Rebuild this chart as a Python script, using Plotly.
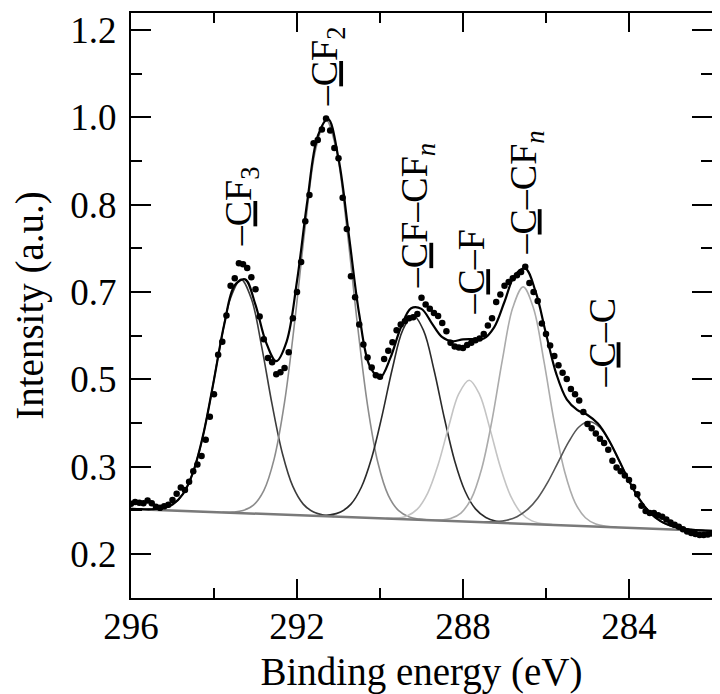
import plotly.graph_objects as go

# ---------------- data ----------------
energy_data = [296.0, 295.9, 295.8, 295.7, 295.6, 295.5, 295.4, 295.3, 295.2, 295.1,
               295.0, 294.9, 294.8, 294.7, 294.6, 294.5, 294.4, 294.3, 294.2, 294.1,
               294.0, 293.9, 293.8, 293.7, 293.6, 293.5, 293.4, 293.3, 293.2, 293.1,
               293.0, 292.9, 292.8, 292.7, 292.6, 292.5, 292.4, 292.3, 292.2, 292.1,
               292.0, 291.9, 291.8, 291.7, 291.6, 291.5, 291.4, 291.3, 291.2, 291.1,
               291.0, 290.9, 290.8, 290.7, 290.6, 290.5, 290.4, 290.3, 290.2, 290.1,
               290.0, 289.9, 289.8, 289.7, 289.6, 289.5, 289.4, 289.3, 289.2, 289.1,
               289.0, 288.9, 288.8, 288.7, 288.6, 288.5, 288.4, 288.3, 288.2, 288.1,
               288.0, 287.9, 287.8, 287.7, 287.6, 287.5, 287.4, 287.3, 287.2, 287.1,
               287.0, 286.9, 286.8, 286.7, 286.6, 286.5, 286.4, 286.3, 286.2, 286.1,
               286.0, 285.9, 285.8, 285.7, 285.6, 285.5, 285.4, 285.3, 285.2, 285.1,
               285.0, 284.9, 284.8, 284.7, 284.6, 284.5, 284.4, 284.3, 284.2, 284.1,
               284.0, 283.9, 283.8, 283.7, 283.6, 283.5, 283.4, 283.3, 283.2, 283.1,
               283.0, 282.9, 282.8, 282.7, 282.6, 282.5, 282.4, 282.3, 282.2, 282.1,
               282.0]
intensity_data = [0.296, 0.299, 0.298, 0.297, 0.302, 0.297, 0.290, 0.288, 0.291, 0.294,
                  0.303, 0.315, 0.327, 0.322, 0.338, 0.358, 0.371, 0.387, 0.418, 0.462,
                  0.505, 0.580, 0.605, 0.655, 0.712, 0.726, 0.755, 0.753, 0.746, 0.728,
                  0.705, 0.653, 0.610, 0.574, 0.566, 0.543, 0.547, 0.555, 0.585, 0.650,
                  0.700, 0.757, 0.835, 0.885, 0.984, 0.990, 1.010, 1.031, 1.008, 0.975,
                  0.955, 0.880, 0.820, 0.730, 0.690, 0.638, 0.600, 0.575, 0.556, 0.541,
                  0.538, 0.572, 0.588, 0.604, 0.627, 0.638, 0.644, 0.650, 0.652, 0.658,
                  0.689, 0.676, 0.668, 0.660, 0.654, 0.641, 0.625, 0.603, 0.596, 0.594,
                  0.593, 0.599, 0.603, 0.608, 0.611, 0.620, 0.636, 0.650, 0.681, 0.695,
                  0.712, 0.719, 0.726, 0.732, 0.738, 0.748, 0.717, 0.700, 0.683, 0.640,
                  0.620, 0.598, 0.578, 0.560, 0.546, 0.534, 0.515, 0.505, 0.493, 0.471,
                  0.448, 0.440, 0.430, 0.420, 0.412, 0.399, 0.378, 0.365, 0.358, 0.350,
                  0.341, 0.328, 0.314, 0.292, 0.282, 0.278, 0.278, 0.274, 0.271, 0.266,
                  0.260, 0.256, 0.252, 0.247, 0.243, 0.240, 0.238, 0.236, 0.236, 0.237,
                  0.239]

energy_fit = [296.00, 295.75, 295.50, 295.25, 295.00, 294.75, 294.50, 294.25, 294.00, 293.75,
              293.50, 293.25, 293.00, 292.75, 292.50, 292.25, 292.00, 291.75, 291.50, 291.25,
              291.00, 290.75, 290.50, 290.25, 290.00, 289.75, 289.50, 289.25, 289.00, 288.75,
              288.50, 288.25, 288.00, 287.75, 287.50, 287.25, 287.00, 286.75, 286.50, 286.25,
              286.00, 285.75, 285.50, 285.25, 285.00, 284.75, 284.50, 284.25, 284.00, 283.75,
              283.50, 283.25, 283.00, 282.75, 282.50, 282.25, 282.00]
intensity_fit = [0.2860, 0.2855, 0.2854, 0.2872, 0.2945, 0.3143, 0.3569, 0.4310, 0.5328, 0.6394,
                 0.7129, 0.7241, 0.6752, 0.6048, 0.5679, 0.6054, 0.7209, 0.8742, 0.9974, 1.0299,
                 0.9546, 0.8083, 0.6571, 0.5592, 0.5367, 0.5742, 0.6317, 0.6690, 0.6678, 0.6402,
                 0.6138, 0.6058, 0.6097, 0.6102, 0.6112, 0.6325, 0.6813, 0.7322, 0.7447, 0.7006,
                 0.6204, 0.5433, 0.4951, 0.4751, 0.4653, 0.4489, 0.4195, 0.3803, 0.3397, 0.3049,
                 0.2794, 0.2631, 0.2538, 0.2490, 0.2465, 0.2450, 0.2441]

energy_baseline = [296.0, 282.0]
intensity_baseline = [0.286, 0.244]

energy_cf3 = [295.60, 295.35, 295.10, 294.85, 294.60, 294.35, 294.10, 293.85, 293.60, 293.35,
              293.10, 292.85, 292.60, 292.35, 292.10, 291.85, 291.60, 291.35, 291.10]
intensity_cf3 = [0.2852, 0.2860, 0.2905, 0.3042, 0.3364, 0.3974, 0.4899, 0.5984, 0.6886, 0.7240,
                 0.6871, 0.5954, 0.4854, 0.3914, 0.3289, 0.2952, 0.2800, 0.2740, 0.2718]

energy_cf2 = [293.80, 293.55, 293.30, 293.05, 292.80, 292.55, 292.30, 292.05, 291.80, 291.55,
              291.30, 291.05, 290.80, 290.55, 290.30, 290.05, 289.80, 289.55, 289.30, 289.05, 288.80]
intensity_cf2 = [0.2797, 0.2800, 0.2828, 0.2932, 0.3209, 0.3815, 0.4897, 0.6469, 0.8260, 0.9722,
                 1.0289, 0.9707, 0.8230, 0.6424, 0.4837, 0.3740, 0.3119, 0.2826, 0.2708, 0.2665, 0.2647]

energy_cfcfn = [291.45, 291.20, 290.95, 290.70, 290.45, 290.20, 289.95, 289.70, 289.45, 289.20,
                288.95, 288.70, 288.45, 288.20, 287.95, 287.70, 287.45, 287.20, 286.95]
intensity_cfcfn = [0.2732, 0.2746, 0.2802, 0.2951, 0.3273, 0.3836, 0.4641, 0.5545, 0.6277, 0.6556,
                   0.6262, 0.5515, 0.4596, 0.3776, 0.3198, 0.2861, 0.2697, 0.2626, 0.2597]

energy_cf = [289.85, 289.60, 289.35, 289.10, 288.85, 288.60, 288.35, 288.10, 287.85, 287.60,
             287.35, 287.10, 286.85, 286.60, 286.35, 286.10, 285.85]
intensity_cf = [0.2680, 0.2685, 0.2727, 0.2857, 0.3163, 0.3703, 0.4417, 0.5058, 0.5316, 0.5043,
                0.4387, 0.3658, 0.3103, 0.2782, 0.2637, 0.2580, 0.2560]

energy_ccfn = [288.80, 288.55, 288.30, 288.05, 287.80, 287.55, 287.30, 287.05, 286.80, 286.55,
               286.30, 286.05, 285.80, 285.55, 285.30, 285.05, 284.80, 284.55, 284.30]
intensity_ccfn = [0.2646, 0.2648, 0.2676, 0.2781, 0.3057, 0.3628, 0.4556, 0.5710, 0.6702, 0.7097,
                  0.6687, 0.5680, 0.4511, 0.3568, 0.2982, 0.2691, 0.2571, 0.2528, 0.2511]

energy_cc = [287.70, 287.45, 287.20, 286.95, 286.70, 286.45, 286.20, 285.95, 285.70, 285.45,
             285.20, 284.95, 284.70, 284.45, 284.20, 283.95, 283.70, 283.45, 283.20, 282.95,
             282.70, 282.45, 282.20]
intensity_cc = [0.2614, 0.2612, 0.2618, 0.2645, 0.2712, 0.2845, 0.3065, 0.3381, 0.3764, 0.4145,
                0.4428, 0.4529, 0.4413, 0.4115, 0.3719, 0.3321, 0.2990, 0.2755, 0.2607, 0.2526,
                0.2483, 0.2461, 0.2448]

# peak labels: text, energy and intensity of label foot
label_texts = ["–<u>C</u>F<sub>3</sub>", "–<u>C</u>F<sub>2</sub>",
               "–<u>C</u>F–CF<sub><i>n</i></sub>", "–<u>C</u>–F",
               "–<u>C</u>–CF<sub><i>n</i></sub>", "–<u>C</u>–C"]
label_energy = [293.34, 291.27, 289.09, 287.81, 286.49, 284.66]
label_intensity = [0.784, 1.051, 0.704, 0.653, 0.767, 0.513]

# y tick labels as printed on the original axis (evenly spaced marks)
ytick_text = ["0.2", "0.3", "0.5", "0.7", "0.8", "1.0", "1.2"]
xtick_text = ["296", "292", "288", "284"]

# ---------------- figure ----------------
FONT = "Liberation Serif, Times New Roman, serif"
fig = go.Figure()

components = [
    (energy_cf3, intensity_cf3, "#3c3c3c"),
    (energy_cf2, intensity_cf2, "#8c8c8c"),
    (energy_cfcfn, intensity_cfcfn, "#2a2a2a"),
    (energy_cf, intensity_cf, "#c4c4c4"),
    (energy_ccfn, intensity_ccfn, "#ababab"),
    (energy_cc, intensity_cc, "#555555"),
]
for ex, iy, col in components:
    fig.add_trace(go.Scatter(x=ex, y=iy, mode="lines",
                             line=dict(color=col, width=1.6, shape="spline"),
                             hoverinfo="skip", showlegend=False))

fig.add_trace(go.Scatter(x=energy_baseline, y=intensity_baseline, mode="lines",
                         line=dict(color="#7a7a7a", width=2.5), showlegend=False))
fig.add_trace(go.Scatter(x=energy_fit, y=intensity_fit, mode="lines",
                         line=dict(color="black", width=2.2, shape="spline"),
                         showlegend=False))
fig.add_trace(go.Scatter(x=energy_data, y=intensity_data, mode="markers",
                         marker=dict(color="black", size=6.5), showlegend=False))

for t, ex, iy in zip(label_texts, label_energy, label_intensity):
    fig.add_annotation(x=ex, y=iy, text=t, textangle=-90, showarrow=False,
                       xanchor="center", yanchor="bottom",
                       font=dict(family=FONT, size=38, color="black"))

y_lo, y_hi = 0.2, 1.2
n_ticks = len(ytick_text)
ytick_vals = [y_lo + k * (y_hi - y_lo) / (n_ticks - 1) for k in range(n_ticks)]
yminor_vals = [v + (y_hi - y_lo) / (n_ticks - 1) / 2 for v in ytick_vals[:-1]]
xtick_vals = [float(v) for v in xtick_text]
xminor_vals = [v - 2 for v in xtick_vals]

axis_common = dict(showline=True, linecolor="black", linewidth=2, mirror="allticks",
                   ticks="inside", tickcolor="black", tickwidth=1.6,
                   showgrid=False, zeroline=False,
                   tickfont=dict(family=FONT, size=37, color="black"))

fig.update_xaxes(range=[296, 282], tickmode="array", tickvals=xtick_vals,
                 ticktext=xtick_text, ticklen=19, ticklabelstandoff=-5,
                 minor=dict(ticks="inside", tickmode="array", tickvals=xminor_vals,
                            ticklen=10, tickcolor="black", tickwidth=1.6),
                 title=dict(text="Binding energy (eV)", standoff=14,
                            font=dict(family=FONT, size=39, color="black")),
                 **axis_common)
fig.update_yaxes(range=[0.116, 1.2324], tickmode="array", tickvals=ytick_vals,
                 ticktext=ytick_text, ticklen=20, ticklabelstandoff=5,
                 minor=dict(ticks="inside", tickmode="array", tickvals=yminor_vals,
                            ticklen=11, tickcolor="black", tickwidth=1.6),
                 title=dict(text="Intensity (a.u.)", standoff=20,
                            font=dict(family=FONT, size=39, color="black")),
                 **axis_common)

# the page body adds an 8 px offset, so the figure is 8 px smaller than the window
fig.update_layout(width=712, height=686, plot_bgcolor="white", paper_bgcolor="white",
                  margin=dict(l=123, r=8, t=5, b=96, autoexpand=False), showlegend=False)

fig.write_html("out.html")
